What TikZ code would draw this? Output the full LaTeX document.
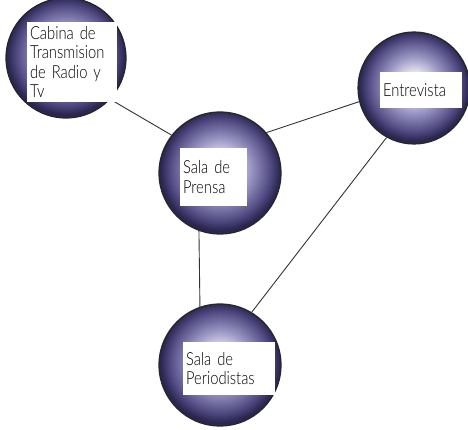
\documentclass[tikz,border=0pt]{standalone}
\usepackage{fontspec}
\setmainfont{Lato}
\newfontfamily\handfont[FakeStretch=0.82]{Lato Light}
\definecolor{orbmid}{RGB}{160,156,200}
\definecolor{orbdark}{RGB}{82,76,132}
\definecolor{orbedge}{RGB}{42,38,80}
\pgfdeclareradialshading{orb}{\pgfpoint{0bp}{2bp}}{color(0bp)=(white); color(4bp)=(white!90!orbmid); color(12bp)=(orbmid); color(20.5bp)=(orbdark); color(24.5bp)=(orbedge); color(50bp)=(orbedge)}
\tikzset{
  orbnode/.style={circle, inner sep=0pt, shading=orb, draw=black!85, line width=1.2pt},
  lbl/.style={fill=white, inner xsep=3pt, inner ysep=1pt, align=left, font=\handfont\fontsize{18}{19.5}\selectfont},
  link/.style={draw=black!80, line width=0.9pt}
}
\begin{document}
\begin{tikzpicture}[x=1pt,y=-1pt]
\useasboundingbox (0,0) rectangle (468,430);
\node[orbnode, minimum size=120pt] (cabina) at (66,58) {};
\node[orbnode, minimum size=112pt] (entrevista) at (414,88) {};
\node[orbnode, minimum size=122pt] (prensa) at (220,173) {};
\node[orbnode, minimum size=122pt] (periodistas) at (220,365) {};
\draw[link] (cabina.317) -- (prensa.142.8);
\draw[link] (prensa.41.6) -- (entrevista.194);
\draw[link] (prensa.250.8) -- (periodistas.109.5);
\draw[link] (entrevista.241.5) -- (periodistas.59);
\node[lbl, text width=84pt, minimum height=80pt] (cabinat) at (72,62) {Cabina de\\Transmision\\de Radio y\\Tv};
\node[lbl, text width=76pt, minimum height=36pt] (entrevistat) at (421,90) {Entrevista};
\node[lbl, text width=61pt, minimum height=58pt] (prensat) at (213.5,177) {Sala de\\Prensa};
\node[lbl, text width=86pt, minimum height=53pt] (periodistast) at (229,368.5) {Sala de\\Periodistas};
\end{tikzpicture}
\end{document}
